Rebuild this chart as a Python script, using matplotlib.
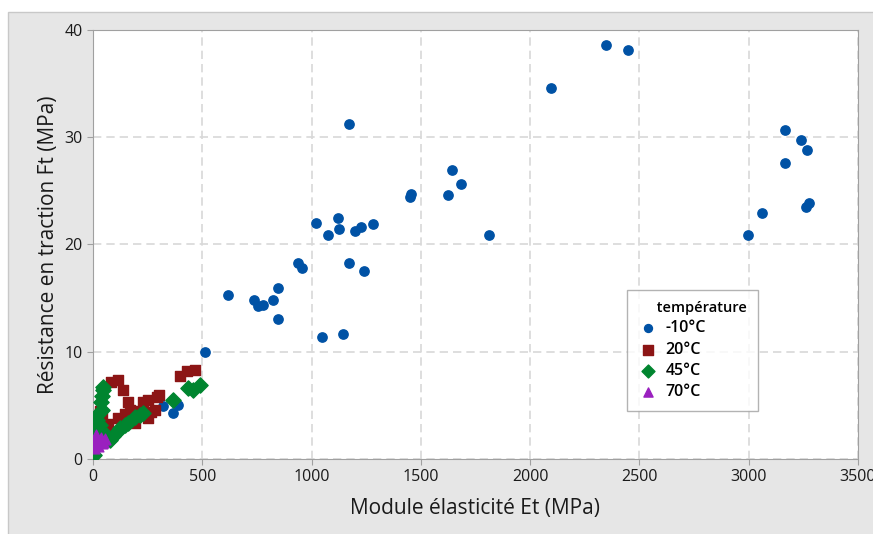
import numpy as np
import matplotlib.pyplot as plt
from matplotlib.patches import Rectangle

plt.rcParams['font.family'] = ['Open Sans', 'DejaVu Sans']

# -10°C
x_m10 = [512, 618, 735, 756, 779, 824, 845, 845, 938, 957, 1018, 1047, 1073, 1122, 1124,
         1145, 1172, 1173, 1198, 1227, 1241, 1282, 1450, 1455, 1624, 1642, 1683, 1811,
         2094, 2345, 2446, 2995, 3059, 3168, 3168, 3237, 3264, 3267, 3275, 322, 367, 390]
y_m10 = [10.0, 15.3, 14.8, 14.3, 14.4, 14.8, 15.9, 13.1, 18.3, 17.8, 22.0, 11.4, 20.9, 22.5, 21.4,
         11.7, 31.2, 18.3, 21.3, 21.6, 17.5, 21.9, 24.4, 24.7, 24.6, 26.9, 25.6, 20.9,
         34.6, 38.6, 38.1, 20.9, 22.9, 30.7, 27.6, 29.7, 23.5, 28.8, 23.9, 4.9, 4.3, 5.0]

# 20°C
x_20 = [10, 25, 30, 40, 45, 60, 70, 82, 113, 116, 136, 145, 151, 159, 169, 190, 215,
        230, 250, 253, 265, 284, 291, 300, 398, 428, 467]
y_20 = [2.6, 3.2, 4.5, 3.9, 2.8, 2.4, 3.3, 7.2, 7.4, 3.8, 6.4, 4.2, 3.9, 5.3, 4.6, 3.4, 4.5,
        5.3, 5.5, 3.8, 4.4, 4.6, 5.8, 6.0, 7.7, 8.2, 8.3]

# 45°C
x_45 = [5, 10, 12, 15, 17, 20, 30, 37, 40, 42, 45, 47, 60, 78, 93, 110, 124, 146, 160,
        192, 215, 230, 367, 436, 459, 489]
y_45 = [0.4, 1.0, 2.0, 2.7, 3.6, 4.1, 3.2, 5.3, 4.6, 5.9, 6.4, 6.7, 2.2, 1.8, 2.1, 2.5, 2.9, 3.2, 3.4,
        3.9, 4.1, 4.3, 5.5, 6.6, 6.4, 6.9]

# 70°C
x_70 = [5, 8, 12, 15, 20, 25, 30, 35, 40, 48, 55]
y_70 = [1.0, 1.8, 2.2, 1.4, 1.9, 1.2, 1.7, 2.0, 1.5, 1.6, 1.9]

fig = plt.figure(figsize=(8.73, 5.34), dpi=100)
# fond gris derrière le graphique
bg = Rectangle((8 / 873, -0.01), 1, 1 - 12 / 534 + 0.01, transform=fig.transFigure,
               facecolor='#e6e6e6', edgecolor='#c8c8c8', lw=1, zorder=-10)
fig.add_artist(bg)
ax = fig.add_axes([93 / 873, 1 - 459 / 534, 765 / 873, 429 / 534])
ax.set_facecolor('white')

ax.scatter(x_m10, y_m10, s=45, marker='o', color='#0052a5', label='-10°C', zorder=3)
ax.scatter(x_20, y_20, s=60, marker='s', color='#8c1515', label='20°C', zorder=3)
ax.scatter(x_45, y_45, s=60, marker='D', color='#00852f', label='45°C', zorder=4)
ax.scatter(x_70, y_70, s=60, marker='^', color='#9a20bf', label='70°C', zorder=5)

ax.set_xlim(0, 3500)
ax.set_ylim(0, 40)
ax.set_xticks(np.arange(0, 3501, 500))
ax.set_yticks(np.arange(0, 41, 10))
ax.grid(True, color='#d8d8d8', linestyle=(0, (5, 3)), lw=1.2)
ax.set_axisbelow(True)
for s in ax.spines.values():
    s.set_color('#a0a0a0')
ax.tick_params(colors='#a0a0a0', labelcolor='#1a1a1a', labelsize=11.5, length=4)

ax.set_xlabel('Module élasticité Et (MPa)', fontsize=15, color='#1a1a1a', labelpad=9)
ax.set_ylabel('Résistance en traction Ft (MPa)', fontsize=15, color='#1a1a1a', labelpad=4)

leg = ax.legend(title='     température', loc='upper left', bbox_to_anchor=(0.698, 0.394),
                borderaxespad=0, title_fontsize=10.5, frameon=True,
                fancybox=False, edgecolor='#a0a0a0', handletextpad=0.5, borderpad=0.7,
                labelspacing=0.33, handlelength=1.2, markerscale=0.85,
                prop={'size': 11.5, 'weight': 'semibold'})
leg._legend_box.align = 'left'
leg.get_title().set_fontweight('semibold')
leg.get_frame().set_linewidth(1)

fig.savefig('out.png', dpi=100)
